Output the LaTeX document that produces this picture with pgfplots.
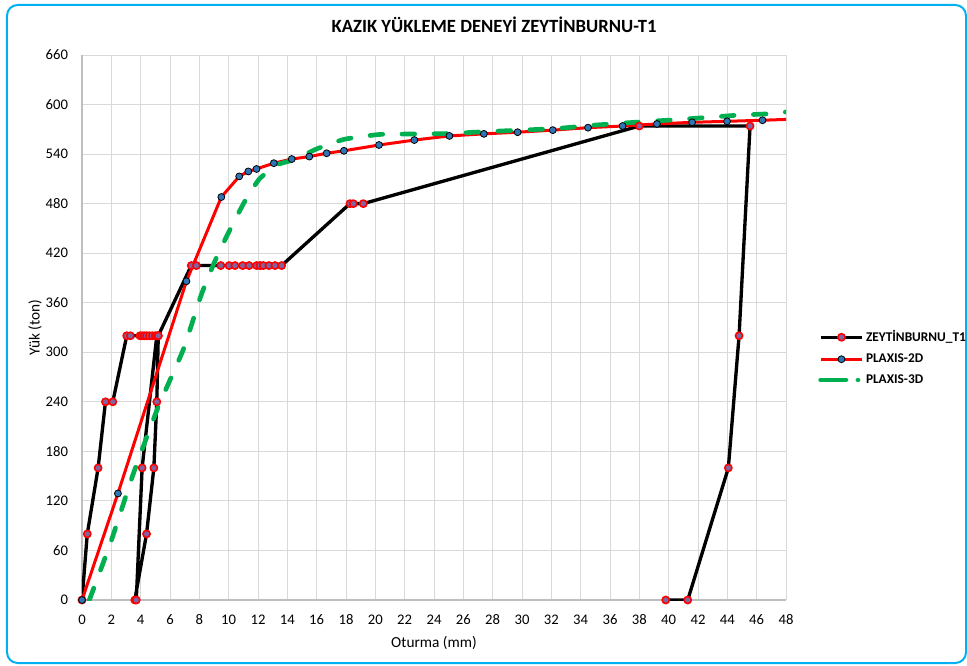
\documentclass[border=0pt]{standalone}
\usepackage{fontspec}
\setmainfont{Carlito}
\usepackage{pgfplots}
\pgfplotsset{compat=1.18}
\definecolor{gridgray}{RGB}{217,217,217}
\definecolor{axgray}{RGB}{191,191,191}
\definecolor{framecyan}{RGB}{0,176,240}
\definecolor{xlgreen}{RGB}{0,176,80}
\definecolor{mkpurple}{RGB}{128,100,162}
\definecolor{mkblue}{RGB}{46,117,182}
\begin{document}
\begin{tikzpicture}
\useasboundingbox (-61.5pt,-48.75pt) rectangle (663.75pt,450pt);
\draw[framecyan, line width=1.5pt, rounded corners=8pt] (-56.25pt,-47.25pt) rectangle (663pt,446.25pt);
\node[font=\fontsize{14}{16}\selectfont\bfseries] at (309pt,431.25pt) {KAZIK YÜKLEME DENEYİ ZEYTİNBURNU-T1};
\begin{axis}[
  scale only axis,
  width=528pt, height=408.75pt,
  xmin=0, xmax=48, ymin=0, ymax=660,
  xtick={0,2,...,48}, ytick={0,60,...,660},
  grid=major,
  grid style={gridgray, line width=0.75pt},
  major tick length=0pt,
  axis x line*=bottom, axis y line*=left,
  axis line style={axgray, line width=0.9pt, -},
  /pgf/number format/assume math mode=true,
  ticklabel style={font=\fontsize{11}{13}\selectfont, black},
  yticklabel style={xshift=-7pt},
  xticklabel style={yshift=-7.5pt},
  xlabel={Oturma (mm)}, ylabel={Yük (ton)},
  label style={font=\fontsize{11.5}{13}\selectfont},
  xlabel style={at={(axis description cs:0.5,-0.0789)}, anchor=center},
  ylabel style={at={(axis description cs:-0.0668,0.5)}, anchor=center},
  legend cell align=left,
  legend style={at={(1.0,0.444)}, anchor=west, xshift=21pt, draw=none, fill=none,
    font=\fontsize{10}{12}\selectfont\bfseries, row sep=5.5pt,
    nodes={inner sep=1pt}},
  clip mode=global,
]
\addplot[black, line width=2.5pt, line join=round,
  mark=*, mark size=2.7pt,
  mark options={fill=mkpurple, draw=red, line width=1.2pt},
  legend image code/.code={\draw[mark repeat=2,mark phase=2] plot coordinates {(0cm,0cm) (0.55cm,0cm) (1.1cm,0cm)};}]
coordinates {
(0,0) (0.36,80) (1.1,160) (1.6,240) (2.1,240) (3.05,320) (3.3,320)
(3.95,320) (4.1,320) (4.25,320) (4.4,320) (4.6,320) (4.8,320) (5.0,320) (5.2,320)
(5.1,240) (4.9,160) (4.4,80) (3.6,0)
(3.7,0) (4.1,160) (5.1,320) (5.2,320)
(7.45,405) (7.8,405) (9.46,405) (10.03,405) (10.43,405) (10.95,405) (11.39,405)
(11.91,405) (12.14,405) (12.36,405) (12.75,405) (13.16,405) (13.61,405)
(18.27,480) (18.5,480) (19.18,480)
(38.0,574) (45.55,574) (44.8,320) (44.07,160) (41.3,0) (39.8,0)
};
\addlegendentry{ZEYTİNBURNU\_T1}
\addplot[red, line width=2.25pt, line join=round,
  mark=*, mark size=2.6pt,
  mark options={fill=mkblue, draw=black, line width=0.6pt},
  legend image code/.code={\draw[mark repeat=2,mark phase=2] plot coordinates {(0cm,0cm) (0.55cm,0cm) (1.1cm,0cm)};}]
coordinates {
(0,0) (2.45,129) (7.12,386) (9.5,488) (10.72,513) (11.34,519) (11.9,522)
(13.08,529) (14.3,534) (15.5,537) (16.68,541) (17.86,544) (20.25,551)
(22.66,557) (25.05,562) (27.4,564.5) (29.7,566.5) (32.1,569) (34.5,572)
(36.86,574) (39.2,576.5) (41.6,578.5) (43.98,579.7) (46.4,581) (49,582.6)
};
\addlegendentry{PLAXIS-2D}
\addplot[xlgreen, line width=3.5pt, line cap=round, line join=round,
  dash pattern=on 9.5pt off 14.5pt, smooth, tension=0.3,
  legend image code/.code={\draw[dash pattern=on 19pt off 9pt on 0.1pt off 20pt] (0cm,0cm) -- (1.1cm,0cm);}]
coordinates {
(0.5,0) (2.0,72) (3.5,153) (5.2,234) (6.9,303) (8.16,371) (9.2,416)
(10.3,456) (11.2,486) (12.1,510) (13.3,527) (14.4,533) (16.1,547)
(17.9,558) (20.3,563.8) (22.8,564.3) (25.2,565) (27.3,567) (29.9,569)
(32.4,571) (34.9,575) (38.1,579) (40.8,582) (44.6,587) (47.1,589) (48,591)
};
\addlegendentry{PLAXIS-3D}
\end{axis}
\end{tikzpicture}
\end{document}
